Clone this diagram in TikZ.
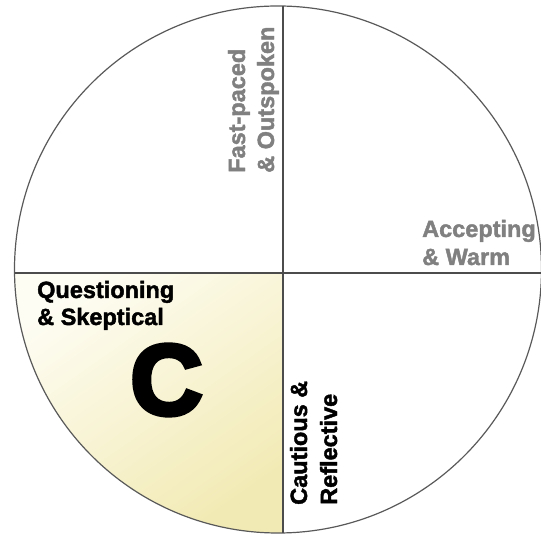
\documentclass[tikz,border=0pt]{standalone}
\usepackage{fontspec}
\setmainfont{Liberation Sans}
\newfontfamily\heavyfont[FakeBold=4.5]{Liberation Sans Bold}
\newfontfamily\thickfont[FakeBold=1.8]{Liberation Sans Bold}
\usetikzlibrary{calc}
\definecolor{pale}{RGB}{254,253,244}
\definecolor{sand}{RGB}{242,234,180}
\definecolor{quiet}{RGB}{128,128,128}

\begin{document}
\begin{tikzpicture}[x=1pt,y=1pt,
  lbl/.style={inner sep=0pt,font=\thickfont\fontsize{23.5}{28}\selectfont},
  axisline/.style={line width=1.3pt,black!70}]
  \useasboundingbox (0,0) rectangle (541,535);
  \coordinate (ctr) at (278,265.5);
  \coordinate (mid) at (283,262);
  \coordinate (top) at (283,529);  \coordinate (bot) at (283,2);
  \coordinate (lft) at (14.5,262); \coordinate (rgt) at (541.5,262);
  \begin{scope}
    \clip (ctr) circle[radius=263.5];
    \shade[top color=pale,bottom color=sand,shading angle=35] (mid) rectangle (0,0);
  \end{scope}
  \draw[line width=1.2pt,black!65] (ctr) circle[radius=263.5];
  \draw[axisline] (top) -- (bot);
  \draw[axisline] (lft) -- (rgt);
  \node[lbl,anchor=base west] (q1) at (37,237) {Questioning};
  \node[lbl,anchor=base west] (q2) at (37,210) {\& Skeptical};
  \node[inner sep=0pt,font=\heavyfont\fontsize{100}{100}\selectfont] (cletter) at (166.5,155) {C};
  \node[lbl,text=quiet,anchor=base west] (a1) at (422,298) {Accepting};
  \node[lbl,text=quiet,anchor=base west] (a2) at (422,270) {\& Warm};
  \node[lbl,text=quiet,anchor=base west,rotate=90] (f1) at (245,362) {Fast-paced};
  \node[lbl,text=quiet,anchor=base west,rotate=90] (f2) at (274,362) {\& Outspoken};
  \node[lbl,anchor=base west,rotate=90] (c1) at (307,30) {Cautious \&};
  \node[lbl,anchor=base west,rotate=90] (c2) at (337,30) {Reflective};
\end{tikzpicture}
\end{document}
